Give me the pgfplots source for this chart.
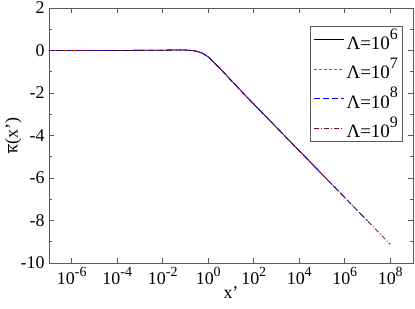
\documentclass[border=0pt]{standalone}
\usepackage{pgfplots}
\pgfplotsset{compat=1.18}
\usepackage{fontspec}
\setmainfont{Liberation Serif}
\definecolor{maroonx}{RGB}{103,7,72}
\definecolor{axgray}{RGB}{90,90,90}
\newcommand{\sx}[1]{10\raisebox{0.9ex}{\fontsize{14}{14}\selectfont #1}}
\newcommand{\lx}[1]{10\raisebox{1.2ex}{\fontsize{16}{16}\selectfont #1}}
\begin{document}
\begin{tikzpicture}[x=1bp,y=1bp]
\path[use as bounding box] (-49,-46) rectangle (366,263);
\begin{axis}[
  at={(0,0)}, anchor=south west,
  scale only axis, width=364bp, height=255bp,
  xmode=log, xmin=1e-7, xmax=1e9,
  ymin=-10, ymax=2,
  xtick={1e-6,1e-4,1e-2,1,1e2,1e4,1e6,1e8},
  xticklabels={\sx{-6},\sx{-4},\sx{-2},\sx{0},\sx{2},\sx{4},\sx{6},\sx{8}},
  minor xtick={},
  ytick={-10,-8,-6,-4,-2,0,2},
  yticklabels={-10,-8,-6,-4,-2,0,2},
  minor ytick={-9,-7,-5,-3,-1,1},
  tick align=inside,
  major tick length=5bp, minor tick length=3bp,
  every tick/.style={axgray, line width=0.7pt},
  axis line style={axgray, line width=0.8pt},
  ticklabel style={font=\fontsize{18}{20}\selectfont, text=black},
  xticklabel style={yshift=-1bp},
  yticklabel style={xshift=-1bp},
  xlabel={x'}, ylabel={$\overline{\mbox{κ}}$(x')},
  label style={font=\fontsize{18}{20}\selectfont},
  xlabel style={at={(0.5,0)}, anchor=north, yshift=-20bp},
  ylabel style={at={(0,0.5)}, anchor=south, xshift=0bp, yshift=24bp},
  legend style={at={(0.973,0.929)}, anchor=north east, draw=axgray, line width=0.7pt,
    font=\fontsize{19}{20}\selectfont, inner xsep=3bp, inner ysep=0bp, row sep=3bp,
    legend cell align=left},
  legend image code/.code={\draw[#1] (0bp,0bp) -- (30bp,0bp);},
]
\addplot[black, line width=0.8pt] coordinates {
(1e-7,0) (1e-6,0) (1e-5,0) (1e-4,0.002) (1e-3,0.006) (1e-2,0.015) (0.0316,0.02) (0.1,0.02)
(0.2,0.0) (0.316,-0.04) (0.562,-0.13) (1,-0.3) (1.78,-0.56) (3.16,-0.83) (5.62,-1.11) (10,-1.4)
(31.6,-1.97) (100,-2.52) (1000,-3.62) (1e4,-4.72) (1e5,-5.82)
};
\addlegendentry{Λ=\lx{6}}
\addplot[red!85, dash pattern=on 3bp off 2bp, line width=0.8pt] coordinates {
(1e-7,0) (1e-6,0) (1e-5,0) (1e-4,0.002) (1e-3,0.006) (1e-2,0.015) (0.0316,0.02) (0.1,0.02)
(0.2,0.0) (0.316,-0.04) (0.562,-0.13) (1,-0.3) (1.78,-0.56) (3.16,-0.83) (5.62,-1.11) (10,-1.4)
(31.6,-1.97) (100,-2.52) (1000,-3.62) (1e4,-4.72) (1e5,-5.82) (1e6,-6.92)
};
\addlegendentry{Λ=\lx{7}}
\addplot[blue, dash pattern=on 6bp off 3bp, line width=0.8pt] coordinates {
(1e-7,0) (1e-6,0) (1e-5,0) (1e-4,0.002) (1e-3,0.006) (1e-2,0.015) (0.0316,0.02) (0.1,0.02)
(0.2,0.0) (0.316,-0.04) (0.562,-0.13) (1,-0.3) (1.78,-0.56) (3.16,-0.83) (5.62,-1.11) (10,-1.4)
(31.6,-1.97) (100,-2.52) (1000,-3.62) (1e4,-4.72) (1e5,-5.82) (1e6,-6.92) (1e7,-8.02)
};
\addlegendentry{Λ=\lx{8}}
\addplot[maroonx, dash pattern=on 5bp off 2bp on 1bp off 2bp, line width=0.8pt] coordinates {
(1e-7,0) (1e-6,0) (1e-5,0) (1e-4,0.002) (1e-3,0.006) (1e-2,0.015) (0.0316,0.02) (0.1,0.02)
(0.2,0.0) (0.316,-0.04) (0.562,-0.13) (1,-0.3) (1.78,-0.56) (3.16,-0.83) (5.62,-1.11) (10,-1.4)
(31.6,-1.97) (100,-2.52) (1000,-3.62) (1e4,-4.72) (1e5,-5.82) (1e6,-6.92) (1e7,-8.02) (1e8,-9.12)
};
\addlegendentry{Λ=\lx{9}}
\end{axis}
\end{tikzpicture}
\end{document}
